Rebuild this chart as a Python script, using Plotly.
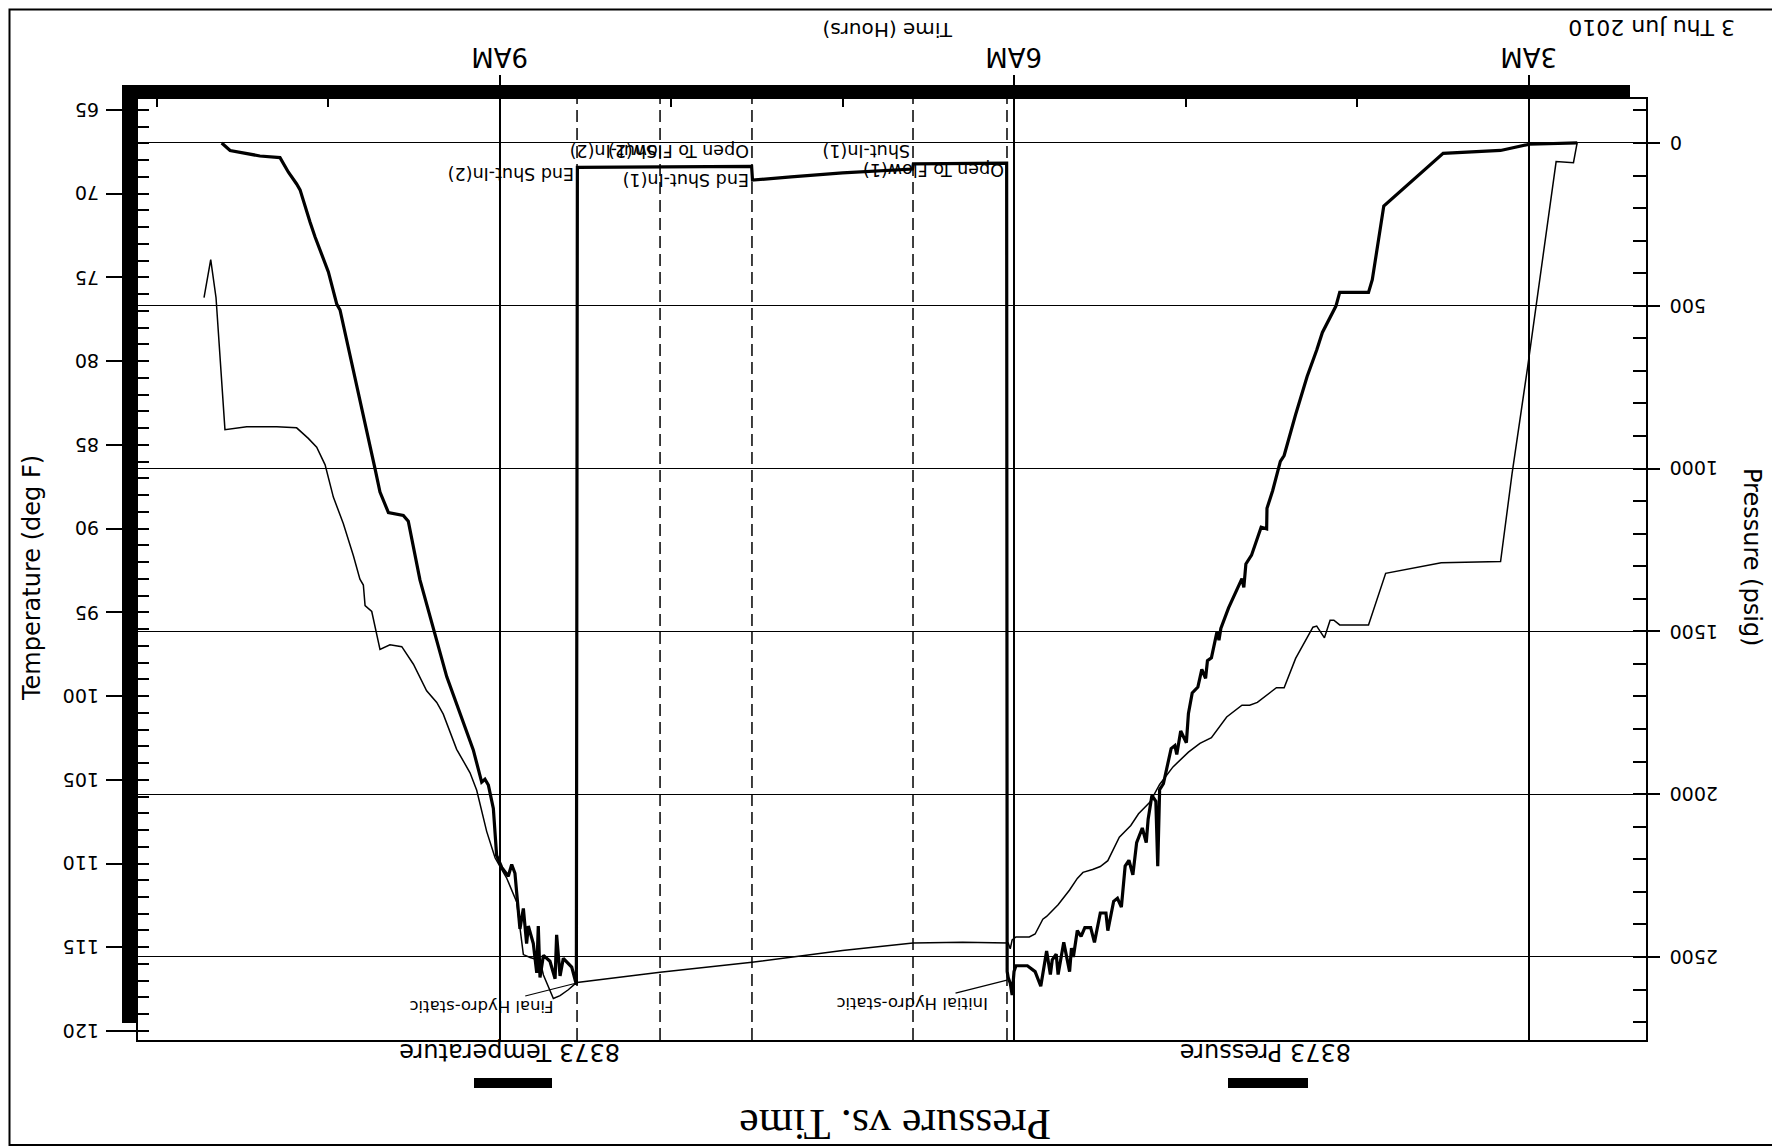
import plotly.graph_objects as go

# ---------------- data ----------------
# time in hours after midnight, 3 Thu Jun 2010
pressure_hours = [2.716, 2.995, 3.163, 3.498, 3.844, 3.911, 3.933, 4.101, 4.123, 4.179, 4.202, 4.235,
                  4.291, 4.358, 4.425, 4.447, 4.492, 4.525, 4.527, 4.559, 4.581, 4.615, 4.648, 4.660,
                  4.671, 4.749, 4.794, 4.805, 4.816, 4.849, 4.872, 4.883, 4.905, 4.928, 4.961, 4.983,
                  4.995, 5.028, 5.051, 5.062, 5.084, 5.129, 5.151, 5.162, 5.173, 5.196, 5.218, 5.229,
                  5.252, 5.285, 5.307, 5.330, 5.352, 5.374, 5.397, 5.419, 5.453, 5.464, 5.497, 5.531,
                  5.553, 5.587, 5.609, 5.631, 5.654, 5.665, 5.676, 5.710, 5.743, 5.754, 5.777, 5.788,
                  5.810, 5.844, 5.877, 5.922, 5.989, 6.000, 6.011, 6.022, 6.034, 6.040,
                  6.043, 6.300, 6.587, 6.592, 7.000, 7.300, 7.525, 7.530, 8.064, 8.546,
                  8.552, 8.579, 8.628, 8.647, 8.667, 8.676, 8.706, 8.744, 8.764, 8.774, 8.783, 8.803,
                  8.832, 8.842, 8.861, 8.881, 8.910, 8.929, 8.949, 8.987, 9.017, 9.036, 9.065, 9.085,
                  9.104, 9.153, 9.308, 9.386, 9.464, 9.532, 9.561, 9.648, 9.697, 9.726, 9.775, 9.804,
                  9.852, 9.930, 9.949, 9.998, 10.076, 10.105, 10.163, 10.183, 10.231, 10.280, 10.397,
                  10.571, 10.620]
pressure_psig = [0, 4, 23, 32, 194, 420, 459, 459, 501, 555, 582, 636,
                 717, 834, 960, 978, 1068, 1122, 1185, 1180, 1212, 1266, 1293, 1365,
                 1338, 1428, 1491, 1527, 1500, 1581, 1590, 1644, 1617, 1671, 1689, 1752,
                 1842, 1806, 1878, 1851, 1860, 1968, 1986, 2221, 2022, 2004, 2077, 2149,
                 2104, 2149, 2248, 2203, 2221, 2347, 2320, 2329, 2419, 2365, 2365, 2455,
                 2410, 2410, 2437, 2419, 2500, 2473, 2545, 2455, 2554, 2491, 2509, 2554,
                 2482, 2590, 2545, 2527, 2527, 2545, 2617, 2581, 2563, 2545,
                 62, 62, 64, 80, 92, 104, 114, 72, 73, 75,
                 2585, 2531, 2504, 2558, 2432, 2567, 2513, 2495, 2563, 2405, 2549, 2459,
                 2405, 2459, 2351, 2414, 2243, 2216, 2252, 2225, 2188, 2044, 1972, 1954,
                 1963, 1864, 1639, 1486, 1342, 1162, 1144, 1135, 1072, 1000, 883, 811,
                 693, 513, 495, 396, 288, 243, 144, 126, 90, 45, 40,
                 23, 0]

temperature_hours = [2.716, 2.738, 2.839, 3.006, 3.096, 3.163, 3.509, 3.833, 3.933, 4.101, 4.135, 4.157,
                     4.190, 4.235, 4.257, 4.358, 4.425, 4.470, 4.581, 4.626, 4.671, 4.760, 4.849, 4.916,
                     4.983, 5.073, 5.151, 5.207, 5.274, 5.319, 5.386, 5.453, 5.497, 5.542, 5.598, 5.631,
                     5.676, 5.743, 5.810, 5.832, 5.877, 5.911, 5.989, 6.011, 6.022, 6.034, 6.300, 6.589,
                     7.000, 7.528, 8.064, 8.548, 8.560, 8.599, 8.647, 8.686, 8.744, 8.764, 8.822, 8.861,
                     8.900, 8.958, 8.987, 9.026, 9.075, 9.133, 9.172, 9.250, 9.328, 9.366, 9.425, 9.502,
                     9.570, 9.639, 9.697, 9.745, 9.784, 9.794, 9.814, 9.852, 9.911, 9.969, 10.017, 10.066,
                     10.115, 10.183, 10.299, 10.474, 10.601, 10.653, 10.684, 10.723]
temperature_degF = [66.93, 68.15, 68.08, 80.41, 86.72, 91.97, 92.04, 92.67, 95.75, 95.75, 95.47, 95.47,
                    96.52, 95.82, 95.89, 97.75, 99.50, 99.50, 100.38, 100.55, 100.55, 101.25, 102.48, 102.83,
                    103.35, 104.23, 105.28, 106.33, 107.03, 107.73, 108.43, 109.83, 110.18, 110.36, 110.53, 110.89,
                    111.58, 112.46, 113.16, 113.33, 114.21, 114.39, 114.39, 114.56, 115.09, 114.74, 114.70, 114.75,
                    115.20, 115.90, 116.50, 117.10, 117.19, 117.54, 117.89, 118.06, 116.66, 115.79, 115.61, 115.44,
                    112.29, 110.88, 110.36, 109.66, 108.08, 105.63, 104.58, 103.18, 101.08, 100.38, 99.68, 98.10,
                    97.05, 96.94, 97.22, 94.95, 94.60, 93.37, 93.02, 91.62, 89.69, 88.12, 86.19, 85.14,
                    84.61, 83.98, 83.91, 83.91, 84.09, 76.21, 73.93, 76.21]

event_hours = [6.041, 6.589, 7.528, 8.064, 8.548]
event_labels = ["Open To Flow(1)", "Shut-In(1)", "End Shut-In(1)", "Open To Flow(2)", "Shut-In(2)", "End Shut-In(2)"]
event_label_hours = [6.041, 6.589, 7.528, 7.528, 8.064, 8.548]

hydro_labels = ["Initial Hydro-static", "Final Hydro-static"]
hydro_hours = [6.041, 8.550]
hydro_psig = [2571, 2580]

time_tick_hours = [3, 6, 9]
time_tick_text = ["3AM", "6AM", "9AM"]
temp_ticks = [65, 70, 75, 80, 85, 90, 95, 100, 105, 110, 115, 120]
pressure_ticks = [0, 500, 1000, 1500, 2000, 2500]

chart_title = "Pressure vs. Time"
date_text = "3 Thu Jun 2010"
x_title = "Time (Hours)"
left_title = "Temperature (deg F)"
right_title = "Pressure (psig)"
legend_names = ["8373 Pressure", "8373 Temperature"]

# ---------------- layout geometry (reference pixel positions) ----------------
PAGE_MARGIN = 8                      # default body margin of the html page
W, H = 1780 - PAGE_MARGIN, 1148 - PAGE_MARGIN
L, R, T, B = 138, 1646, 99, 1040     # plot frame in reference pixels


def px(xp):
    return (xp - L) / (R - L)


def py(yp):
    return (B - yp) / (B - T)


SANS = "DejaVu Sans"
SERIF = "Liberation Serif"

fig = go.Figure()
fig.add_trace(go.Scatter(x=pressure_hours, y=pressure_psig, mode="lines",
                         line=dict(color="black", width=3.2), name=legend_names[0],
                         yaxis="y", showlegend=False))
fig.add_trace(go.Scatter(x=temperature_hours, y=temperature_degF, mode="lines",
                         line=dict(color="black", width=1.5), name=legend_names[1],
                         yaxis="y2", showlegend=False))

shapes = []
for t in event_hours:
    shapes.append(dict(type="line", xref="x", yref="paper", x0=t, x1=t, y0=0, y1=1,
                       line=dict(color="black", width=1.5, dash="12px,6px"), layer="above"))
# thick scan shadow bars
shapes.append(dict(type="rect", xref="paper", yref="paper", x0=px(122), x1=px(1630),
                   y0=py(99), y1=py(85), fillcolor="black", line=dict(width=0), layer="above"))
shapes.append(dict(type="rect", xref="paper", yref="paper", x0=px(122), x1=px(137),
                   y0=py(1023), y1=py(85), fillcolor="black", line=dict(width=0), layer="above"))
# outer border
shapes.append(dict(type="rect", xref="paper", yref="paper", x0=px(9.5), x1=px(1775),
                   y0=py(1145), y1=py(9.5), line=dict(color="black", width=2), layer="above"))
# legend samples
shapes.append(dict(type="rect", xref="paper", yref="paper", x0=px(1228), x1=px(1308),
                   y0=py(1088), y1=py(1078), fillcolor="black", line=dict(width=0)))
shapes.append(dict(type="rect", xref="paper", yref="paper", x0=px(474), x1=px(552),
                   y0=py(1088), y1=py(1078), fillcolor="black", line=dict(width=0)))

ann = []


def label(x, y, text, size, xref="paper", yref="paper", angle=180, xanchor="center",
          yanchor="middle", family=SANS, **kw):
    ann.append(dict(x=x, y=y, xref=xref, yref=yref, text=text, textangle=angle,
                    showarrow=False, font=dict(family=family, size=size, color="black"),
                    xanchor=xanchor, yanchor=yanchor, **kw))


for t, txt in zip(time_tick_hours, time_tick_text):
    label(t, py(57), txt, 26, xref="x")
for v in temp_ticks:
    label(px(101), v, str(v), 19, yref="y2", xanchor="right")
for v in pressure_ticks:
    label(px(1668), v, str(v), 19, yref="y", xanchor="left")

event_label_y = [170, 151, 180, 151, 151, 174]
for t, txt, yy in zip(event_label_hours, event_labels, event_label_y):
    label(t, py(yy), txt, 17.5, xref="x", xanchor="right", xshift=-1)
for t, p, txt in zip(hydro_hours, hydro_psig, hydro_labels):
    ann.append(dict(x=t, xref="x", y=p, yref="y", text=txt, textangle=180,
                    showarrow=True, arrowhead=0, arrowwidth=1.2, arrowcolor="black",
                    ax=-95, ay=24, font=dict(family=SANS, size=16.5, color="black")))

label(px(888), py(30), x_title, 20)
label(px(1652), py(28), date_text, 22)
label(px(32), py(578), left_title, 24, angle=-90)
label(px(1752), py(557), right_title, 24, angle=90)
label(px(1266), py(1052), legend_names[0], 24)
label(px(510), py(1052), legend_names[1], 24)
label(px(895), py(1125), chart_title, 44, family=SERIF)

fig.update_layout(
    width=W, height=H,
    margin=dict(l=L - PAGE_MARGIN, r=W - (R - PAGE_MARGIN), t=T - PAGE_MARGIN,
                b=H - (B - PAGE_MARGIN), pad=0),
    paper_bgcolor="white", plot_bgcolor="white",
    showlegend=False,
    xaxis=dict(range=[11.108, 2.315], side="top", tickmode="linear", tick0=0, dtick=3,
               showticklabels=False, ticks="outside", ticklen=22, tickwidth=1.5, tickcolor="black",
               showgrid=True, gridcolor="black", gridwidth=1.5, zeroline=False,
               showline=True, linecolor="black", linewidth=2, mirror=True,
               minor=dict(ticks="inside", ticklen=8, tickwidth=1.5, tickcolor="black",
                          dtick=1, tick0=0, showgrid=False)),
    yaxis=dict(range=[2755, -135], side="right", tickmode="linear", tick0=0, dtick=500,
               showticklabels=False, ticks="outside", ticklen=12, tickwidth=1.5, tickcolor="black",
               showgrid=True, gridcolor="black", gridwidth=1.2, zeroline=False,
               showline=True, linecolor="black", linewidth=2, mirror=True,
               minor=dict(ticks="inside", ticklen=13, tickwidth=1.5, tickcolor="black",
                          dtick=100, tick0=0, showgrid=False)),
    yaxis2=dict(range=[120.54, 64.343], side="left", overlaying="y", tickmode="linear",
                tick0=65, dtick=5, showticklabels=False, ticks="outside", ticklen=30,
                tickwidth=1.5, tickcolor="black", showgrid=False, zeroline=False,
                showline=True, linecolor="black", linewidth=2,
                minor=dict(ticks="inside", ticklen=11, tickwidth=1.5, tickcolor="black",
                           dtick=1, tick0=65, showgrid=False)),
    shapes=shapes,
    annotations=ann,
)

fig.write_html("out.html")
